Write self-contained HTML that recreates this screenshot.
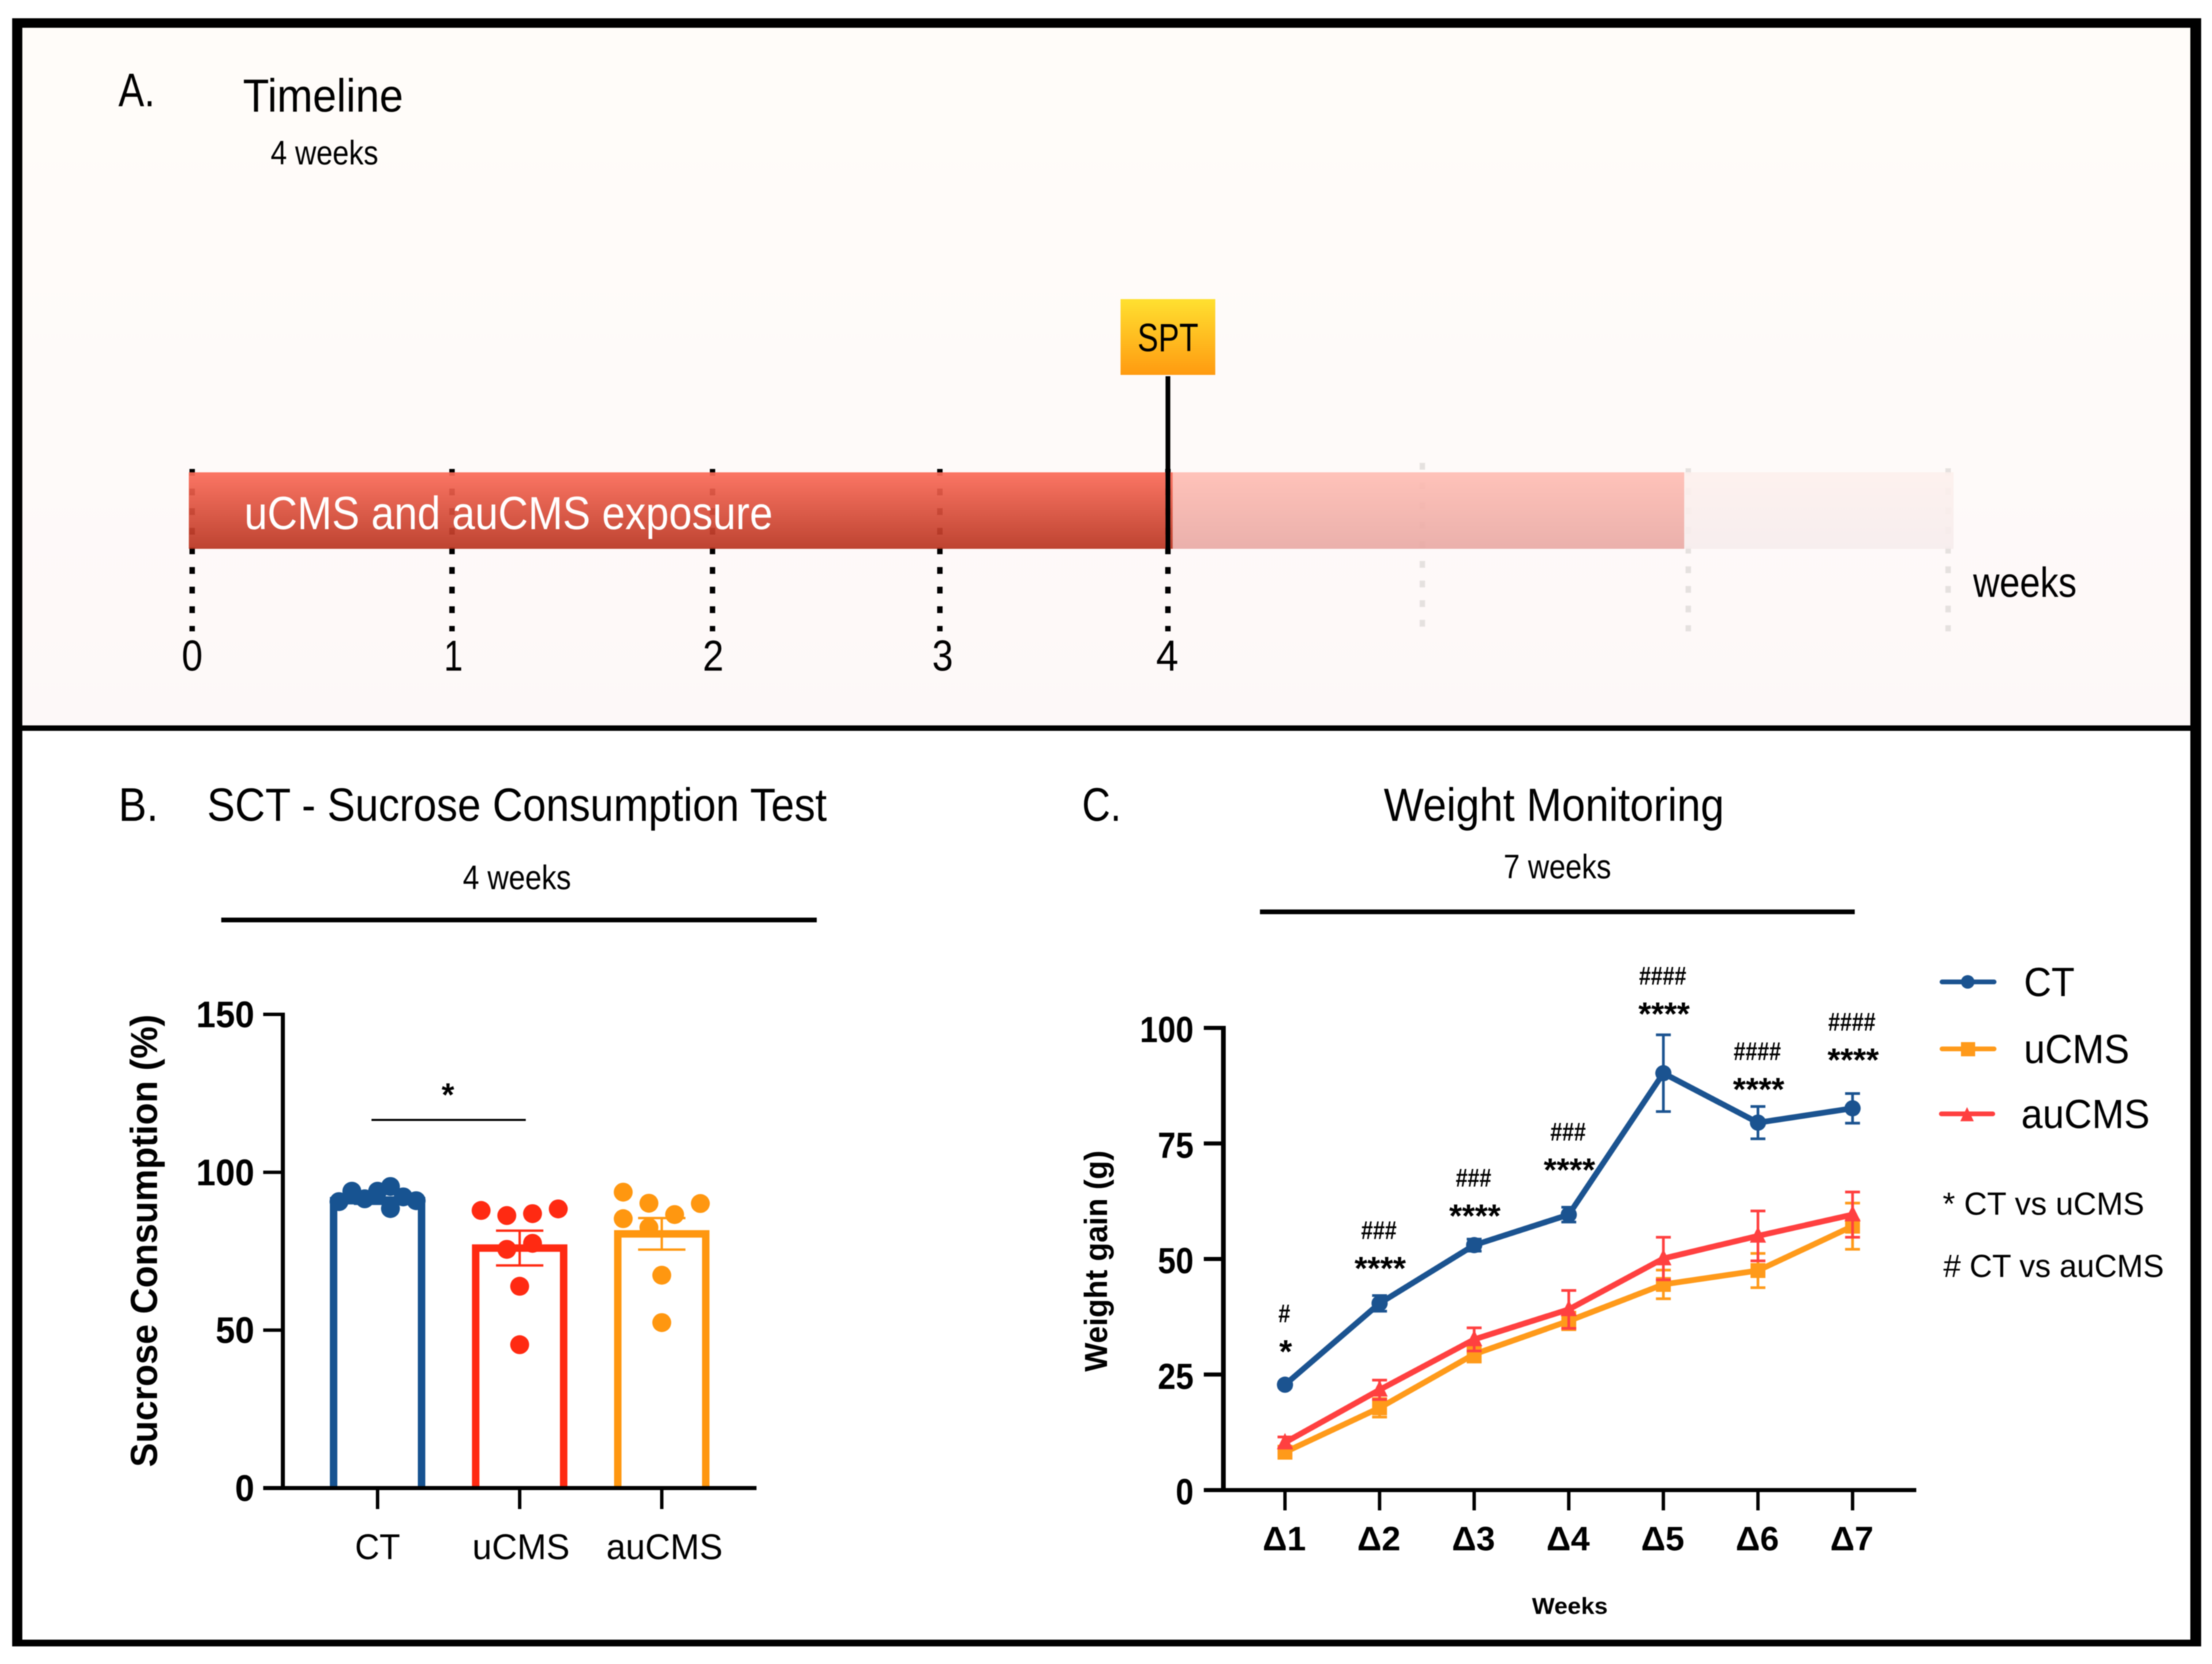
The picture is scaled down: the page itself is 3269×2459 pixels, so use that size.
<!DOCTYPE html>
<html lang="en">
<head>
<meta charset="utf-8">
<title>Timeline, Sucrose Consumption Test and Weight Monitoring</title>
<style>
html,body{margin:0;padding:0;background:#fff;}
svg{display:block;filter:blur(0.8px);}
text{font-family:"Liberation Sans",sans-serif;fill:#000;}
.b{font-weight:bold;}
</style>
</head>
<body>
<svg id="fig" xmlns="http://www.w3.org/2000/svg" width="3269" height="2459" viewBox="0 0 3269 2459">
<defs>
<linearGradient id="panelBg" x1="0" y1="0" x2="0" y2="1"><stop offset="0" stop-color="#fffcf9"/><stop offset="1" stop-color="#fdf8f8"/></linearGradient>
<linearGradient id="barRed" x1="0" y1="0" x2="0" y2="1"><stop offset="0" stop-color="#fb6a57"/><stop offset="1" stop-color="#b83420"/></linearGradient>
<linearGradient id="barLight" x1="0" y1="0" x2="0" y2="1"><stop offset="0" stop-color="#ffbcb2"/><stop offset="1" stop-color="#e8a8a3"/></linearGradient>
<linearGradient id="barFaint" x1="0" y1="0" x2="0" y2="1"><stop offset="0" stop-color="#fdf0ec"/><stop offset="1" stop-color="#f6ecec"/></linearGradient>
<linearGradient id="sptFill" x1="0" y1="0" x2="0" y2="1"><stop offset="0" stop-color="#ffe030"/><stop offset="1" stop-color="#ff9a10"/></linearGradient>
</defs>

<rect x="0" y="0" width="3269" height="2459" fill="#fff"/>
<rect x="33" y="41" width="3204" height="1031" fill="url(#panelBg)"/>

<!-- Panel A -->
<g>
  <text x="175" y="157" font-size="70" textLength="54" lengthAdjust="spacingAndGlyphs">A.</text>
  <text x="359" y="165" font-size="69" textLength="237" lengthAdjust="spacingAndGlyphs">Timeline</text>
  <text x="400" y="243" font-size="50" textLength="159" lengthAdjust="spacingAndGlyphs">4 weeks</text>

  <g stroke="#000" stroke-width="8" stroke-dasharray="10 19">
    <line x1="284" y1="693" x2="284" y2="933"/>
    <line x1="668" y1="693" x2="668" y2="933"/>
    <line x1="1053" y1="693" x2="1053" y2="933"/>
    <line x1="1389" y1="693" x2="1389" y2="933"/>
    <line x1="1726" y1="693" x2="1726" y2="933"/>
  </g>
  <g stroke="#e5e1df" stroke-width="8" stroke-dasharray="10 19">
    <line x1="2102" y1="684" x2="2102" y2="926"/>
    <line x1="2495" y1="692" x2="2495" y2="933"/>
    <line x1="2879" y1="692" x2="2879" y2="933"/>
  </g>

  <rect x="279" y="698" width="1454" height="113" fill="url(#barRed)" fill-opacity="0.92"/>
  <rect x="1733" y="698" width="756" height="113" fill="url(#barLight)" fill-opacity="0.9"/>
  <rect x="2489" y="698" width="398" height="113" fill="url(#barFaint)" fill-opacity="0.9"/>

  <text x="361" y="782" font-size="69" style="fill:#fff" textLength="781" lengthAdjust="spacingAndGlyphs">uCMS and auCMS exposure</text>

  <rect x="1656" y="442" width="140" height="112" fill="url(#sptFill)"/>
  <text x="1726" y="519" font-size="58" text-anchor="middle" textLength="90" lengthAdjust="spacingAndGlyphs">SPT</text>
  <line x1="1726" y1="556" x2="1726" y2="815" stroke="#000" stroke-width="7"/>

  <text x="284" y="991" font-size="64" text-anchor="middle" textLength="31" lengthAdjust="spacingAndGlyphs">0</text>
  <text x="670" y="991" font-size="64" text-anchor="middle" textLength="28" lengthAdjust="spacingAndGlyphs">1</text>
  <text x="1054" y="991" font-size="64" text-anchor="middle" textLength="31" lengthAdjust="spacingAndGlyphs">2</text>
  <text x="1393" y="991" font-size="64" text-anchor="middle" textLength="31" lengthAdjust="spacingAndGlyphs">3</text>
  <text x="1725" y="991" font-size="64" text-anchor="middle" textLength="33" lengthAdjust="spacingAndGlyphs">4</text>
  <text x="2916" y="882" font-size="62" textLength="153" lengthAdjust="spacingAndGlyphs">weeks</text>
</g>

<!-- Frame -->
<g fill="#000">
  <rect x="18" y="27" width="3235" height="14"/>
  <rect x="18" y="27" width="15" height="2406"/>
  <rect x="3237" y="27" width="16" height="2406"/>
  <rect x="18" y="2423" width="3235" height="10"/>
  <rect x="33" y="1072" width="3204" height="8"/>
</g>

<!-- Panel headers -->
<g>
  <text x="175" y="1213" font-size="70" textLength="59" lengthAdjust="spacingAndGlyphs">B.</text>
  <text x="306" y="1213" font-size="69" textLength="916" lengthAdjust="spacingAndGlyphs">SCT - Sucrose Consumption Test</text>
  <text x="684" y="1314" font-size="50" textLength="160" lengthAdjust="spacingAndGlyphs">4 weeks</text>
  <rect x="327" y="1356" width="880" height="7" fill="#000"/>
</g>
<g>
  <text x="1599" y="1213" font-size="70" textLength="58" lengthAdjust="spacingAndGlyphs">C.</text>
  <text x="2045" y="1213" font-size="69" textLength="503" lengthAdjust="spacingAndGlyphs">Weight Monitoring</text>
  <text x="2222" y="1298" font-size="50" textLength="159" lengthAdjust="spacingAndGlyphs">7 weeks</text>
  <rect x="1862" y="1344" width="879" height="7" fill="#000"/>
</g>

<!-- Chart axis titles -->
<text transform="translate(232,2168) rotate(-90)" class="b" font-size="56" textLength="669" lengthAdjust="spacingAndGlyphs">Sucrose Consumption (%)</text>
<text transform="translate(1636,2027) rotate(-90)" class="b" font-size="47" textLength="327" lengthAdjust="spacingAndGlyphs">Weight gain (g)</text>
<text x="2320" y="2385" class="b" font-size="34" text-anchor="middle" textLength="112" lengthAdjust="spacingAndGlyphs">Weeks</text>

<g id="barChart"></g>
<g id="lineChart"></g>

<!-- Legend -->
<g>
  <g>
    <line x1="2870" y1="1451" x2="2947" y2="1451" stroke="#1b5390" stroke-width="7" stroke-linecap="round"/>
    <circle cx="2908" cy="1451" r="10" fill="#1b5390"/>
    <text x="2991" y="1472" font-size="60" textLength="75" lengthAdjust="spacingAndGlyphs">CT</text>
  </g>
  <g>
    <line x1="2870" y1="1550" x2="2947" y2="1550" stroke="#ff9a1a" stroke-width="7" stroke-linecap="round"/>
    <rect x="2898" y="1540" width="21" height="21" fill="#ff9a1a"/>
    <text x="2991" y="1571" font-size="60" textLength="156" lengthAdjust="spacingAndGlyphs">uCMS</text>
  </g>
  <g>
    <line x1="2869" y1="1646" x2="2945" y2="1646" stroke="#ff4040" stroke-width="7" stroke-linecap="round"/>
    <polygon points="2907,1636 2917,1657 2897,1657" fill="#ff4040"/>
    <text x="2987" y="1667" font-size="60" textLength="190" lengthAdjust="spacingAndGlyphs">auCMS</text>
  </g>
  <text x="2871" y="1795" font-size="47" textLength="298" lengthAdjust="spacingAndGlyphs">* CT vs uCMS</text>
  <text x="2872" y="1887" font-size="47" textLength="326" lengthAdjust="spacingAndGlyphs"># CT vs auCMS</text>
</g>

<script>
// ---- Panel B data ----
const barGroups = ['CT', 'uCMS', 'auCMS'];
const barMeans = [91, 76, 80.5];
const barSems = [1, 5.5, 5];
const ctPoints = [90.7, 94, 91.6, 94, 95.5, 88.5, 92.2, 91];
const ucmsPoints = [87.9, 86.3, 86.9, 88.4, 75.6, 77.5, 63.9, 45.4];
const aucmsPoints = [93.7, 90.2, 90.1, 85.3, 86.6, 82.5, 67.4, 52.4];
const ctSwarmSlots = [-3, -2, -1, 0, 1, 1, 2, 3];
const ucmsSwarmSlots = [-3, -1, 1, 3, -1, 1, 0, 0];
const aucmsSwarmSlots = [-3, -1, 3, -3, 1, -1, 0, 0];
const barTicks = [0, 50, 100, 150];
const barColors = ['#175391', '#ff2a12', '#ff9710'];

// ---- Panel C data ----
const weekLabels = ['Δ1', 'Δ2', 'Δ3', 'Δ4', 'Δ5', 'Δ6', 'Δ7'];
const ctMeans = [22.8, 40.4, 53, 59.6, 90.2, 79.5, 82.6];
const ctSems = [0.5, 1.7, 1.3, 1.6, 8.3, 3.5, 3.2];
const ucmsMeans = [8.2, 17.8, 29.4, 36.6, 44.5, 47.5, 57.1];
const ucmsSems = [1.3, 2, 1.7, 1.9, 3.1, 3.7, 5];
const aucmsMeans = [10.3, 21.7, 32.6, 39.1, 50.1, 55, 59.6];
const aucmsSems = [1.2, 2.1, 2.5, 4.1, 4.6, 5.4, 4.9];
const weightTicks = [0, 25, 50, 75, 100];
const starLabels = ['*', '****', '****', '****', '****', '****', '****'];
const hashLabels = ['#', '###', '###', '###', '####', '####', '####'];
const annotationLevels = [31, 49, 60.3, 70.3, 104, 87.7, 94.1];

const NS = 'http://www.w3.org/2000/svg';
function mk(tag, parent, attrs, content) {
  const node = document.createElementNS(NS, tag);
  for (const k in attrs) node.setAttribute(k, attrs[k]);
  if (content !== undefined) node.textContent = content;
  parent.appendChild(node);
  return node;
}

// ---- Axis functions ----
const yBar = v => 2199 - v * (700 / 150);
const xBar = i => 558 + i * 210;
const yWeight = v => 2202 - v * 6.83;
const xWeight = i => 1899 + i * 139.8;

// ---- Panel B ----
const bRoot = document.getElementById('barChart');
const barPointSets = [ctPoints, ucmsPoints, aucmsPoints];
const barSlotSets = [ctSwarmSlots, ucmsSwarmSlots, aucmsSwarmSlots];

barGroups.forEach(function (name, i) {
  const group = mk('g', bRoot, {});
  
  

  const outline = 'M' + (xBar(i) - 65) + ' ' + yBar(0) + 'V' + yBar(barMeans[i]) + 'H' + (xBar(i) + 65) + 'V' + yBar(0);
  const bar = mk('path', group, { d: outline, fill: 'none', stroke: barColors[i], 'stroke-width': 11 });
  
  

  const errPath = 'M' + (xBar(i) - 35) + ' ' + yBar(barMeans[i] + barSems[i]) + 'h70M' + (xBar(i) - 35) + ' ' + yBar(barMeans[i] - barSems[i]) + 'h70M' + xBar(i) + ' ' + yBar(barMeans[i] + barSems[i]) + 'V' + yBar(barMeans[i] - barSems[i]);
  const err = mk('path', group, { d: errPath, fill: 'none', stroke: barColors[i], 'stroke-width': 3.5 });
  
  

  barPointSets[i].forEach(function (v, j) {
    const dot = mk('circle', group, { cx: xBar(i) + barSlotSets[i][j] * 19, cy: yBar(v), r: 14, fill: barColors[i] });
    
    
  });

  const tick = mk('line', bRoot, { x1: xBar(i), x2: xBar(i), y1: yBar(0), y2: yBar(0) + 31, stroke: '#000', 'stroke-width': 5 });
  
  

  const labelWidth = [67, 144, 172][i];
  const label = mk('text', bRoot, { x: xBar(i) + [0, 2, 4][i], y: 2304, 'font-size': 53, 'text-anchor': 'middle', textLength: labelWidth, lengthAdjust: 'spacingAndGlyphs' }, name);
  
  
});

const bYAxis = mk('line', bRoot, { x1: 418, x2: 418, y1: yBar(150) - 2.5, y2: yBar(0) + 2.5, stroke: '#000', 'stroke-width': 6 });



const bXAxis = mk('line', bRoot, { x1: 389, x2: 1118, y1: yBar(0), y2: yBar(0), stroke: '#000', 'stroke-width': 6 });



barTicks.forEach(function (t) {
  const tick = mk('line', bRoot, { x1: 389, x2: 418, y1: yBar(t), y2: yBar(t), stroke: '#000', 'stroke-width': 5 });
  
  
  const str = String(t);
  const label = mk('text', bRoot, { x: 376, y: yBar(t) + 19, 'font-size': 55, 'font-weight': 'bold', 'text-anchor': 'end', textLength: str.length * 28.7, lengthAdjust: 'spacingAndGlyphs' }, str);
  
  
});

const sigLine = mk('line', bRoot, { x1: xBar(0) - 9, x2: xBar(1) + 9, y1: 1655, y2: 1655, stroke: '#000', 'stroke-width': 3 });



const sigStar = mk('text', bRoot, { x: 662, y: 1634, 'font-size': 48, 'font-weight': 'bold', 'text-anchor': 'middle' }, '*');



// ---- Panel C ----
const cRoot = document.getElementById('lineChart');
const weightSeries = [
  { key: 'ct', means: ctMeans, sems: ctSems, color: '#1b5390', marker: 'circle' },
  { key: 'ucms', means: ucmsMeans, sems: ucmsSems, color: '#ff9a1a', marker: 'square' },
  { key: 'aucms', means: aucmsMeans, sems: aucmsSems, color: '#ff4040', marker: 'triangle' }
];

weightSeries.forEach(function (s) {
  const group = mk('g', cRoot, {});
  
  

  s.means.forEach(function (m, i) {
    const top = yWeight(m + s.sems[i]);
    const bottom = yWeight(m - s.sems[i]);
    const x = xWeight(i);
    const eb = mk('path', group, { d: 'M' + (x - 11) + ' ' + top + 'h22M' + (x - 11) + ' ' + bottom + 'h22M' + x + ' ' + top + 'V' + bottom, fill: 'none', stroke: s.color, 'stroke-width': 4 });
    
    
  });

  const pts = s.means.map(function (m, i) { return xWeight(i) + ',' + yWeight(m); }).join(' ');
  const line = mk('polyline', group, { points: pts, fill: 'none', stroke: s.color, 'stroke-width': 8.5, 'stroke-linejoin': 'round' });
  
  

  s.means.forEach(function (m, i) {
    const x = xWeight(i);
    const y = yWeight(m);
    let mark;
    if (s.marker === 'circle') {
      mark = mk('circle', group, { cx: x, cy: y, r: 12, fill: s.color });
    } else if (s.marker === 'square') {
      mark = mk('rect', group, { x: x - 11, y: y - 11, width: 22, height: 22, fill: s.color });
    } else {
      mark = mk('polygon', group, { points: x + ',' + (y - 14) + ' ' + (x + 12) + ',' + (y + 10) + ' ' + (x - 12) + ',' + (y + 10), fill: s.color });
    }
    
    
  });
});

const cYAxis = mk('line', cRoot, { x1: 1808, x2: 1808, y1: yWeight(100) - 3, y2: yWeight(0) + 3, stroke: '#000', 'stroke-width': 7 });



const cXAxis = mk('line', cRoot, { x1: 1779, x2: 2832, y1: yWeight(0), y2: yWeight(0), stroke: '#000', 'stroke-width': 6 });



weightTicks.forEach(function (t) {
  const tick = mk('line', cRoot, { x1: 1779, x2: 1808, y1: yWeight(t), y2: yWeight(t), stroke: '#000', 'stroke-width': 6 });
  
  
  const str = String(t);
  const label = mk('text', cRoot, { x: 1764, y: yWeight(t) + 21, 'font-size': 54, 'font-weight': 'bold', 'text-anchor': 'end', textLength: str.length * 26.5, lengthAdjust: 'spacingAndGlyphs' }, str);
  
  
});

weekLabels.forEach(function (w, i) {
  const tick = mk('line', cRoot, { x1: xWeight(i), x2: xWeight(i), y1: yWeight(0), y2: yWeight(0) + 30, stroke: '#000', 'stroke-width': 5 });
  
  

  const label = mk('text', cRoot, { x: xWeight(i) - 1, y: 2291, 'font-size': 50, 'font-weight': 'bold', 'text-anchor': 'middle', textLength: 64, lengthAdjust: 'spacingAndGlyphs' }, w);
  
  

  const star = mk('text', cRoot, { x: xWeight(i) + 1, y: yWeight(annotationLevels[i]) + 23, 'font-size': 48, 'font-weight': 'bold', 'text-anchor': 'middle', textLength: starLabels[i].length * 19, lengthAdjust: 'spacingAndGlyphs' }, starLabels[i]);
  
  

  const hash = mk('text', cRoot, { x: xWeight(i) - 1, y: yWeight(annotationLevels[i] + 7.1) + 12, 'font-size': 38, 'font-weight': 'bold', 'text-anchor': 'middle', textLength: hashLabels[i].length * 17.5, lengthAdjust: 'spacingAndGlyphs' }, hashLabels[i]);
  
  
});
</script>
</svg>
</body>
</html>
